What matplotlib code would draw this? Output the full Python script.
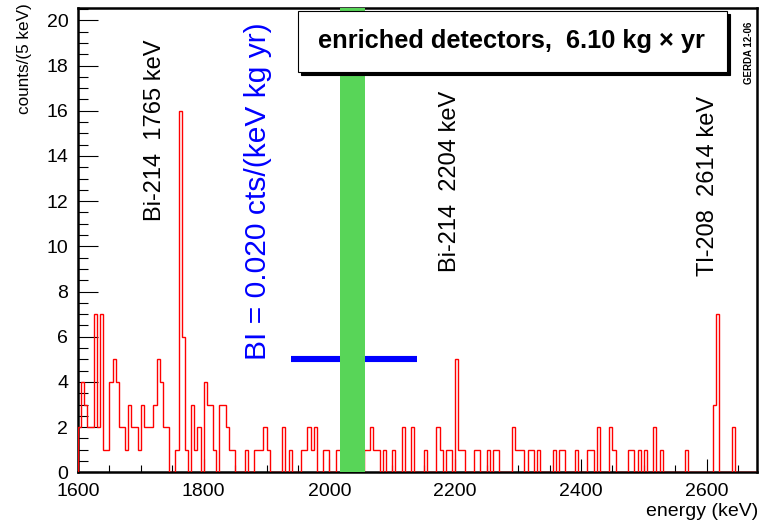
import matplotlib
matplotlib.use("Agg")
import matplotlib.pyplot as plt
import numpy as np
from matplotlib.patches import Rectangle

plt.rcParams['font.family'] = ['Liberation Sans', 'DejaVu Sans']

# counts per 5 keV bin, starting at 1600 keV
counts = [2, 4, 3, 2, 2, 7, 2, 7, 1, 1,
          4, 5, 4, 2, 2, 1, 3, 2, 2, 1,
          3, 2, 2, 2, 3, 5, 4, 2, 2, 0,
          0, 1, 16, 6, 1, 0, 3, 1, 2, 0,
          4, 3, 3, 1, 0, 3, 3, 2, 1, 1,
          0, 0, 0, 1, 0, 0, 1, 1, 1, 2,
          1, 0, 0, 0, 0, 2, 0, 1, 0, 0,
          0, 1, 1, 2, 1, 2, 0, 0, 1, 1,
          0, 0, 1, 1, 0, 0, 0, 0, 0, 0,
          0, 1, 1, 2, 1, 1, 0, 1, 0, 0,
          1, 0, 0, 2, 0, 0, 2, 0, 0, 0,
          1, 0, 0, 0, 2, 1, 0, 1, 1, 0,
          5, 1, 1, 0, 0, 0, 1, 1, 0, 0,
          1, 0, 1, 1, 0, 0, 0, 0, 2, 1,
          1, 1, 0, 1, 1, 0, 1, 0, 0, 0,
          0, 1, 0, 1, 1, 0, 0, 0, 1, 0,
          0, 0, 1, 1, 0, 2, 0, 0, 0, 2,
          1, 0, 0, 0, 0, 1, 1, 0, 1, 0,
          1, 0, 0, 2, 0, 1, 0, 0, 0, 0,
          0, 0, 0, 1, 0, 0, 0, 0, 0, 0,
          0, 0, 3, 7, 0, 0, 0, 0, 2, 0,
          0, 0, 0, 0, 0, 0]
e_start = 1600
bin_width = 5
edges = e_start + bin_width * np.arange(len(counts) + 1)

# blinded window and background index line
blind_window = [2017, 2057]
bi_range = [1939, 2139]
bi_level = 5.0

# line labels: (energy position, bottom y, text)
line_labels = [(1722, 11.1, "Bi-214  1765 keV"),
               (2192, 8.85, "Bi-214  2204 keV"),
               (2602, 8.7, "Tl-208  2614 keV")]

fig = plt.figure(figsize=(7.65, 5.23), dpi=100)
ax = fig.add_axes([78 / 765, 1 - 472.3 / 523, 679 / 765, 464.8 / 523])

ax.plot(bi_range, [bi_level, bi_level], color='#0000ff', lw=4.4,
        solid_capstyle='butt', zorder=2)
ax.axvspan(blind_window[0], blind_window[1], color='#58d558', lw=0, zorder=4)
ax.stairs(counts, edges, baseline=0, color='red', lw=1.0, zorder=3)

ax.set_xlim(1600, 2680)
ax.set_ylim(0, 20.57)

ax.set_xticks(np.arange(1600, 2601, 200))
ax.set_xticks(np.arange(1600, 2680, 50), minor=True)
ax.set_yticks(np.arange(0, 21, 2))
ax.set_yticks(np.arange(0, 20.6, 0.5), minor=True)

ax.tick_params(axis='x', which='major', direction='in', length=9.7, width=0.8,
               labelsize=14, pad=7.5)
ax.tick_params(axis='x', which='minor', direction='in', length=5, width=0.8)
ax.tick_params(axis='y', which='major', direction='in', length=14.4, width=0.8,
               labelsize=14, pad=7)
ax.tick_params(axis='y', which='minor', direction='in', length=7.2, width=0.8)

for s in ax.spines.values():
    s.set_linewidth(1.8)
    s.set_zorder(2.5)

for x, y, txt in line_labels:
    ax.text(x, y, txt, rotation=90, ha='center', va='bottom', fontsize=17)

ax.text(1886, 4.97, "BI = 0.020 cts/(keV kg yr)", rotation=90, ha='center',
        va='bottom', fontsize=21.6, color='#0000ff')

# title box with shadow
bx0, by0, bx1, by1 = 298 / 765, 1 - 72 / 523, 727 / 765, 1 - 11 / 523
fig.patches.append(Rectangle((bx0 + 2.5 / 765, by0 - 2.5 / 523), bx1 - bx0, by1 - by0,
                             transform=fig.transFigure, facecolor='black',
                             edgecolor='black', lw=0.8, zorder=5))
fig.patches.append(Rectangle((bx0, by0), bx1 - bx0, by1 - by0,
                             transform=fig.transFigure, facecolor='white',
                             edgecolor='black', lw=0.8, zorder=6))
fig.text(511 / 765, 1 - 41 / 523, "enriched detectors,  6.10 kg \u00d7 yr",
         ha='center', va='center', fontsize=18.3, fontweight='bold', zorder=7)

fig.text(749 / 765, 1 - 22 / 523, "GERDA 12-06", rotation=90, ha='center',
         va='top', fontsize=7, fontweight='bold')

fig.text(758 / 765, 1 - 512 / 523, "energy (keV)", ha='right', va='center',
         fontsize=14)
fig.text(25 / 765, 1 - 3 / 523, "counts/(5 keV)", rotation=90, ha='center',
         va='top', fontsize=12.3)

fig.savefig("out.png", dpi=100)
